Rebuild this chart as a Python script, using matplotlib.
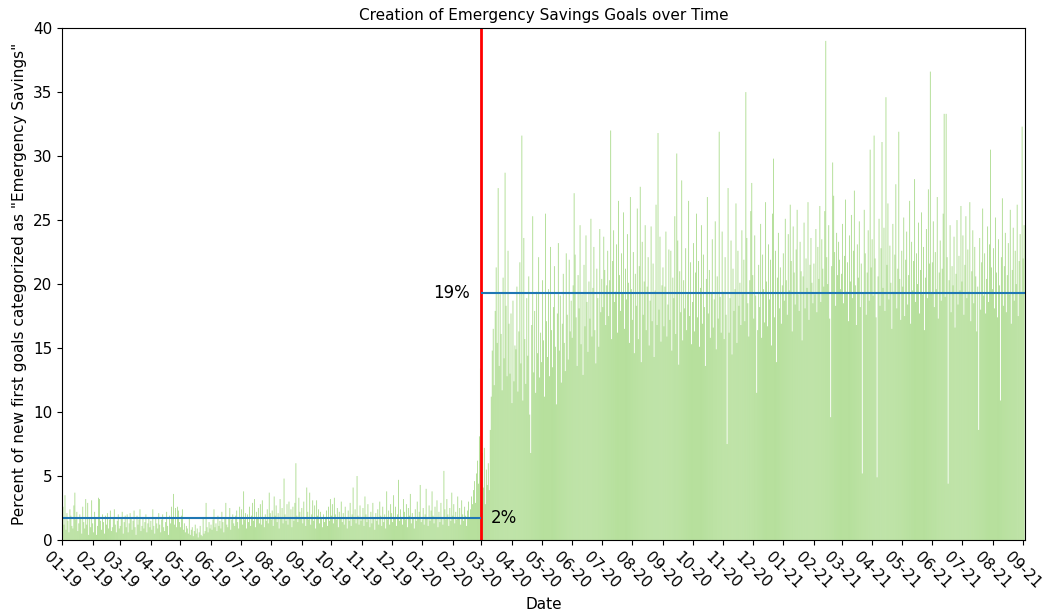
import numpy as np
import pandas as pd
import matplotlib
matplotlib.use("Agg")
import matplotlib.pyplot as plt
import matplotlib.dates as mdates

# daily share (%) of new first goals tagged "Emergency Savings", one list per quarter
q1_2019 = [3.4, 2.6, 1.2, 3.5, 0.8, 2.1, 1.5, 0.6, 2.4, 1.9, 1.1, 0.9, 2.7, 3.7, 1.6, 2.2, 0.7, 1.3, 2.0, 1.8, 0.5, 2.6, 1.4, 0.9, 3.2, 1.2, 2.9, 0.4, 1.7, 1.0, 3.1,
           1.3, 0.6, 2.2, 1.8, 0.4, 1.1, 3.3, 3.2, 1.5, 0.8, 2.0, 1.4, 0.5, 1.9, 1.2, 2.1, 0.9, 1.6, 2.3, 0.7, 1.0, 1.8, 2.4, 1.2, 0.6, 1.5, 2.0, 0.9,
           1.1, 1.8, 2.2, 0.5, 1.4, 1.9, 1.0, 2.0, 0.6, 1.3, 2.1, 1.7, 0.8, 1.5, 2.3, 1.0, 0.4, 1.9, 1.2, 1.6, 2.4, 0.7, 1.1, 1.8, 0.9, 1.4, 2.0, 0.6, 1.3, 1.7, 1.0]
q2_2019 = [1.5, 0.8, 2.4, 1.1, 0.5, 1.8, 1.3, 0.9, 2.1, 1.2, 0.6, 1.6, 2.0, 1.0, 0.7, 1.4, 2.2, 1.1, 0.4, 1.9, 1.3, 2.6, 1.8, 3.6, 1.2, 2.5, 1.0, 2.6, 2.3, 1.4,
           1.0, 1.9, 2.4, 0.8, 1.3, 0.6, 1.1, 0.9, 0.5, 1.7, 0.4, 0.8, 1.0, 0.3, 0.7, 1.2, 0.5, 0.9, 0.2, 0.6, 1.1, 0.4, 0.3, 1.8, 0.5, 0.7, 2.9, 1.0, 0.6, 1.4, 0.9,
           1.2, 0.8, 1.6, 2.4, 1.0, 1.3, 0.7, 1.9, 1.1, 1.5, 0.9, 2.2, 1.4, 0.6, 1.8, 2.9, 1.2, 1.0, 1.7, 2.5, 0.8, 1.6, 2.0, 1.3, 1.1, 1.9, 2.3, 1.4, 0.9, 2.6]
q3_2019 = [1.8, 2.4, 1.2, 3.8, 1.6, 2.1, 0.9, 2.0, 1.4, 2.6, 1.1, 1.9, 2.9, 1.5, 3.2, 1.0, 2.2, 1.7, 2.5, 1.3, 2.8, 1.2, 3.1, 1.8, 1.0, 2.0, 1.5, 2.4, 1.3, 3.7, 2.1,
           1.6, 2.3, 1.1, 3.4, 1.9, 2.7, 1.4, 2.1, 0.9, 3.2, 1.7, 2.5, 1.3, 4.8, 2.0, 1.5, 2.8, 1.2, 3.0, 1.8, 2.4, 1.0, 2.6, 1.5, 2.9, 6.0, 1.9, 1.4, 3.3, 2.2, 1.7,
           2.5, 1.3, 3.0, 1.8, 1.1, 4.1, 2.2, 1.6, 3.7, 1.2, 2.0, 3.1, 1.5, 2.7, 0.9, 3.1, 1.9, 2.4, 1.3, 2.2, 1.7, 1.0, 2.0, 1.4, 1.8, 2.3, 1.1, 2.6, 1.5, 3.2]
q4_2019 = [1.9, 2.8, 1.3, 3.3, 2.0, 1.6, 2.5, 1.0, 2.2, 1.7, 3.0, 1.4, 2.1, 1.2, 2.6, 1.8, 0.9, 2.3, 1.5, 2.9, 1.1, 2.0, 4.1, 1.6, 2.4, 1.3, 5.0, 1.9, 1.2, 2.7, 1.5,
           1.8, 2.5, 1.1, 3.4, 2.0, 1.4, 2.8, 1.6, 1.0, 2.2, 1.3, 2.9, 1.7, 0.8, 2.1, 1.5, 2.4, 1.2, 3.0, 1.9, 1.1, 2.6, 1.4, 2.0, 0.9, 3.8, 1.6, 2.3, 1.2, 2.8,
           2.1, 1.4, 3.5, 1.7, 2.6, 1.1, 2.0, 4.7, 1.5, 2.4, 1.8, 1.2, 3.2, 2.2, 1.6, 2.8, 1.0, 2.5, 1.9, 3.6, 1.3, 2.1, 1.7, 0.9, 2.4, 1.5, 3.0, 1.8, 2.2, 4.3, 1.4]
q1_2020 = [1.6, 2.5, 1.2, 2.0, 4.0, 1.8, 1.1, 2.7, 1.5, 2.3, 3.8, 1.9, 1.3, 2.6, 1.7, 3.1, 1.0, 2.2, 1.4, 2.9, 1.8, 1.2, 5.4, 2.4, 1.6, 3.2, 2.0, 1.1, 2.5, 1.5, 3.7,
           1.9, 2.8, 1.3, 2.2, 1.6, 3.4, 1.8, 2.5, 1.2, 3.1, 2.0, 1.5, 2.6, 1.9, 1.1, 2.3, 3.0, 1.7, 2.4, 3.4, 2.8, 3.9, 4.6, 2.9, 5.2, 6.2, 4.4, 8.1, 13.4,
           3.5, 6.8, 4.1, 7.2, 2.8, 5.5, 4.3, 6.0, 3.9, 8.6, 11.2, 14.8, 16.5, 12.1, 17.9, 21.3, 15.4, 27.5, 13.6, 19.2, 16.1, 11.7, 20.5, 14.2, 28.7, 18.3, 12.8, 22.6, 16.9, 13.0, 17.7]
q2_2020 = [10.7, 18.7, 12.4, 15.2, 14.9, 19.8, 11.6, 16.3, 21.7, 13.8, 31.6, 10.9, 23.6, 15.7, 12.2, 18.9, 14.4, 20.6, 9.8, 6.8, 16.8, 25.3, 13.1, 17.9, 11.5, 19.4, 14.6, 22.1, 12.7, 16.2,
           13.9, 20.3, 15.6, 11.2, 25.5, 17.1, 14.3, 19.6, 12.8, 22.9, 16.4, 13.5, 18.2, 21.4, 15.1, 10.6, 17.7, 23.2, 14.8, 19.1, 12.3, 16.9, 20.8, 15.4, 13.2, 22.4, 17.6, 14.1, 21.9, 16.3, 18.7,
           15.8, 19.9, 27.1, 22.3, 17.4, 13.6, 20.7, 18.1, 24.6, 15.3, 19.2, 12.9, 21.5, 16.7, 23.8, 18.6, 14.7, 20.2, 17.3, 25.1, 15.9, 19.7, 22.9, 16.4, 13.8, 21.2, 18.9, 15.1, 24.3, 17.8]
q3_2020 = [20.4, 18.2, 23.7, 21.1, 16.8, 19.9, 22.6, 17.5, 20.3, 32.0, 15.7, 21.8, 24.2, 18.6, 19.4, 23.1, 16.2, 26.5, 20.7, 17.9, 22.4, 19.3, 25.6, 16.5, 21.2, 18.8, 23.9, 20.1, 15.4, 26.8, 19.6,
           17.2, 22.5, 14.6, 20.8, 18.3, 25.9, 15.7, 21.4, 27.6, 13.9, 23.3, 17.6, 20.2, 24.6, 16.4, 19.8, 22.1, 15.2, 18.7, 24.5, 17.1, 21.6, 14.3, 19.5, 26.2, 16.8, 31.8, 18.0, 23.7, 15.5, 19.9,
           21.3, 16.7, 19.8, 24.1, 15.9, 18.4, 22.7, 17.2, 22.6, 14.8, 20.5, 18.9, 25.3, 16.1, 30.2, 23.4, 13.7, 21.0, 17.8, 28.1, 15.6, 20.3, 18.1, 22.8, 16.4, 19.2, 26.5, 17.5, 21.7, 15.3]
q4_2020 = [18.6, 23.2, 16.3, 20.9, 25.5, 17.4, 21.8, 15.1, 19.7, 24.6, 16.9, 22.3, 18.2, 13.6, 20.4, 26.8, 17.7, 21.1, 15.8, 19.3, 23.5, 16.6, 18.8, 24.9, 14.9, 20.6, 17.3, 31.9, 19.0, 16.2, 24.1,
           19.4, 15.7, 22.1, 17.6, 7.5, 27.5, 16.2, 18.9, 23.4, 14.5, 21.2, 17.9, 19.6, 26.3, 15.4, 22.6, 18.3, 20.1, 16.8, 24.2, 19.2, 21.9, 17.1, 35.0, 23.6, 18.5, 15.9, 20.3, 25.7, 27.9,
           20.7, 17.3, 23.8, 19.1, 11.5, 16.4, 21.5, 18.2, 24.7, 15.8, 22.3, 19.6, 17.0, 26.4, 20.2, 16.7, 23.1, 18.8, 21.9, 15.2, 25.5, 29.8, 17.4, 22.6, 13.9, 20.5, 24.0, 18.1, 21.3, 16.9, 19.9]
q1_2021 = [22.4, 18.7, 25.1, 20.3, 17.6, 23.9, 19.5, 26.2, 21.8, 16.3, 24.5, 20.9, 18.4, 22.7, 25.8, 19.2, 17.9, 23.3, 21.0, 15.6, 20.6, 24.8, 18.1, 22.0, 19.7, 26.4, 17.2, 21.5, 23.6, 20.1, 18.5,
           21.6, 19.2, 24.3, 17.8, 22.9, 20.4, 26.1, 18.6, 23.5, 21.2, 19.8, 25.7, 39.0, 22.1, 20.0, 24.6, 17.3, 9.6, 21.4, 29.5, 26.9, 22.5, 18.3, 24.0, 20.7, 23.3, 21.9, 19.6,
           20.8, 24.7, 18.5, 22.2, 26.6, 19.4, 21.7, 17.1, 23.8, 20.2, 25.4, 18.9, 22.6, 27.3, 19.9, 16.8, 23.1, 20.5, 24.9, 18.2, 21.6, 5.2, 19.3, 25.8, 22.4, 17.6, 20.9, 24.2, 18.7, 30.5, 21.3]
q2_2021 = [23.5, 19.1, 31.6, 22.0, 17.4, 4.9, 20.6, 25.1, 18.3, 22.8, 31.1, 19.7, 24.4, 17.9, 34.6, 21.5, 26.3, 18.8, 23.0, 20.1, 16.5, 24.7, 19.4, 22.3, 27.8, 18.1, 21.2, 31.9, 20.4, 17.2,
           22.6, 19.8, 25.2, 17.5, 21.9, 24.1, 18.4, 20.7, 26.5, 16.9, 23.3, 19.5, 21.8, 28.2, 18.6, 22.4, 20.0, 24.8, 17.7, 21.1, 25.6, 19.2, 22.9, 16.4, 20.5, 24.3, 18.9, 27.4, 21.6, 36.6, 19.3,
           21.7, 24.9, 18.2, 22.5, 19.6, 26.8, 17.3, 20.9, 23.4, 18.7, 21.2, 25.5, 33.3, 19.0, 33.3, 22.1, 4.4, 20.3, 24.6, 17.8, 21.4, 19.9, 23.7, 16.6, 20.8, 25.0, 18.4, 22.2, 19.5, 26.1]
q3_2021 = [20.2, 23.8, 17.6, 21.5, 25.3, 18.9, 22.7, 19.4, 26.4, 17.1, 21.0, 24.2, 18.5, 22.9, 20.6, 16.3, 19.8, 8.6, 23.6, 18.0, 21.7, 25.9, 19.1, 22.4, 17.7, 20.4, 24.5, 18.6, 23.1, 30.5, 21.3,
           19.6, 22.8, 18.1, 25.2, 20.9, 17.4, 23.5, 19.9, 10.9, 22.1, 26.7, 18.3, 21.4, 24.0, 17.8, 20.7, 23.2, 19.2, 25.8, 16.9, 21.1, 24.4, 18.7, 22.6, 20.0, 26.2, 17.5, 21.8, 23.9, 19.4, 32.3,
           22.0, 24.6]

pct = np.concatenate([q1_2019, q2_2019, q3_2019, q4_2019,
                      q1_2020, q2_2020, q3_2020, q4_2020,
                      q1_2021, q2_2021, q3_2021])
dates = pd.date_range("2019-01-01", periods=len(pct), freq="D")

covid_start = pd.Timestamp("2020-03-01")
pre_mean, post_mean = 1.7, 19.3
x_lo, x_hi = pd.Timestamp("2019-01-01"), pd.Timestamp("2021-09-03")

fig = plt.figure(figsize=(10.46, 6.11), dpi=100)
ax = fig.add_axes([0.0593, 0.1162, 0.9207, 0.8378])

# bars are under a pixel wide, so no snapping (avoids dropped columns)
ax.bar(dates, pct, width=0.9, color="#74c442", alpha=0.58, linewidth=0, snap=False)
ax.axvline(covid_start, color="red", lw=2)
ax.hlines(pre_mean, x_lo, covid_start, color="tab:blue", lw=1.5)
ax.hlines(post_mean, covid_start, x_hi, color="tab:blue", lw=1.5)
ax.text(covid_start - pd.Timedelta(days=12), post_mean, f"{post_mean:.0f}%",
        ha="right", va="center", fontsize=12)
ax.text(covid_start + pd.Timedelta(days=9), pre_mean, f"{pre_mean:.0f}%",
        ha="left", va="center", fontsize=12)

ax.set_xlim(x_lo, x_hi)
ax.set_ylim(0, 40)
ax.xaxis.set_major_locator(mdates.MonthLocator())
ax.xaxis.set_major_formatter(mdates.DateFormatter("%m-%y"))
ax.tick_params(labelsize=11)
plt.setp(ax.get_xticklabels(), rotation=-45)
ax.set_xlabel("Date", fontsize=11)
ax.set_ylabel('Percent of new first goals categorized as "Emergency Savings"', fontsize=11)
ax.set_title("Creation of Emergency Savings Goals over Time", fontsize=11)

fig.savefig("out.png", dpi=100)
